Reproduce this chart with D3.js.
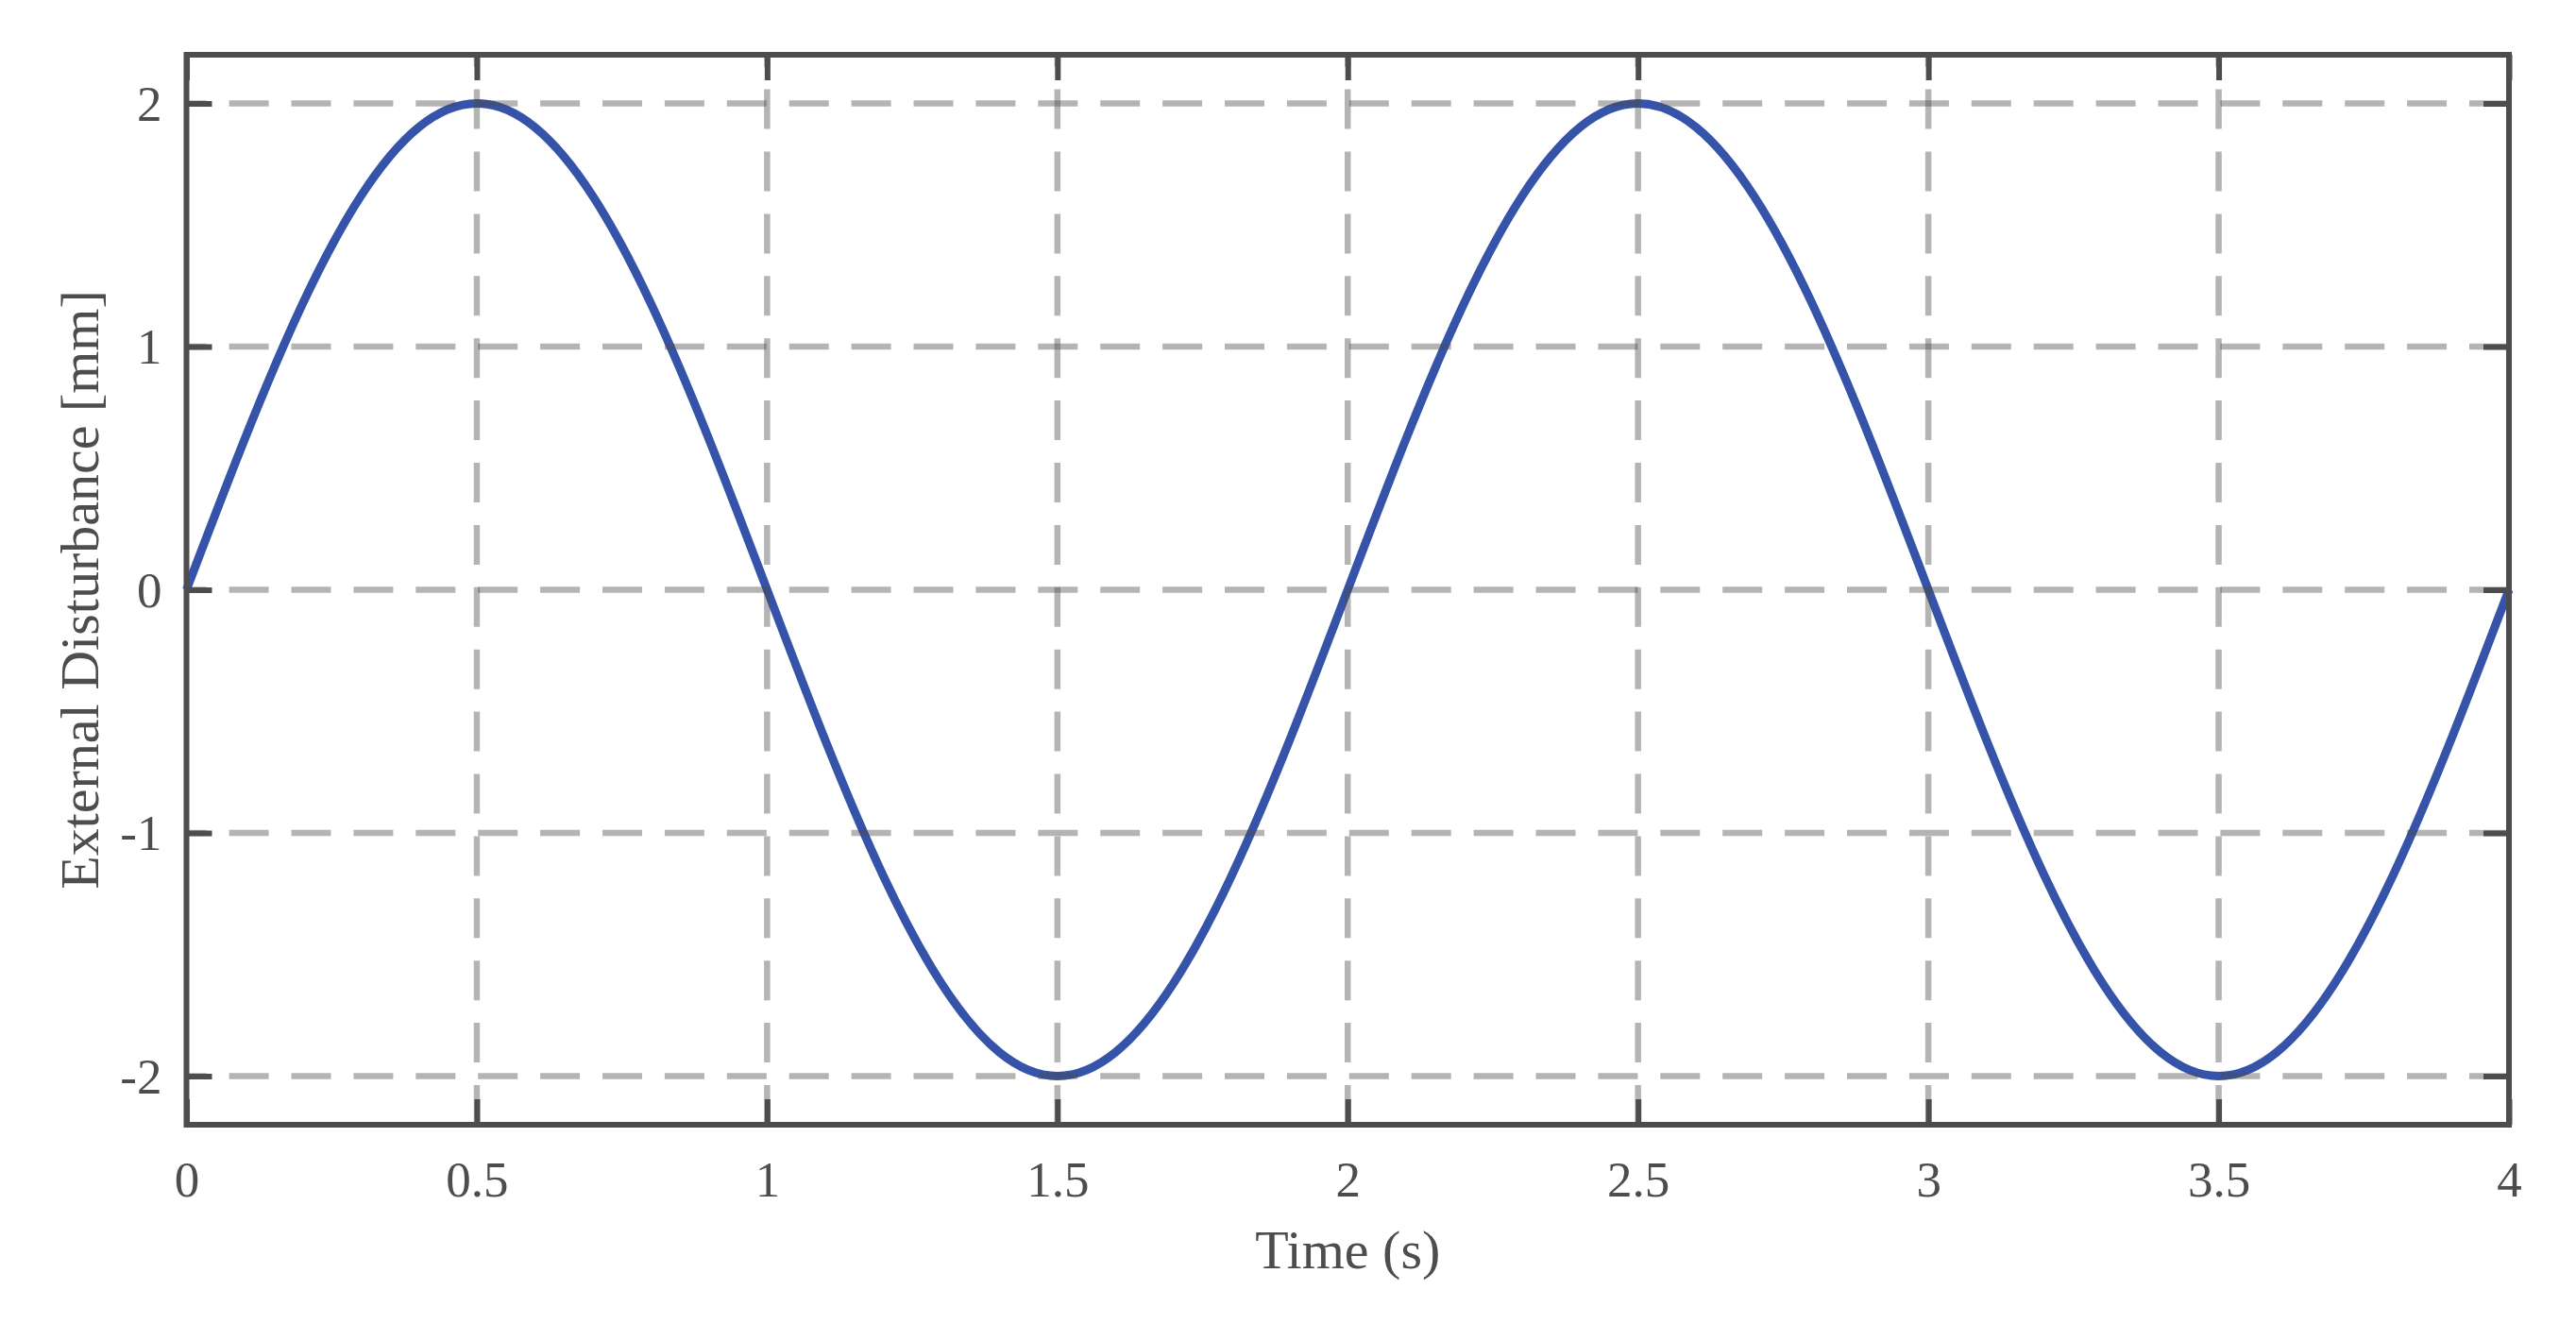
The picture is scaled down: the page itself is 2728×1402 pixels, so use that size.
<!DOCTYPE html>
<html>
<head>
<meta charset="utf-8">
<script src="https://cdn.jsdelivr.net/npm/d3@7"></script>
<style>
html,body{margin:0;padding:0;background:#fff;}
svg{display:block;}
text{font-family:"Liberation Serif","Times New Roman",serif;fill:#4d4d4f;}
</style>
</head>
<body>
<svg id="chart" width="2728" height="1402"></svg>
<script>
// Data
const timeValues = [0,0.1,0.2,0.3,0.4,0.5,0.6,0.7,0.8,0.9,1.0,1.1,1.2,1.3,1.4,1.5,1.6,1.7,1.8,1.9,2.0,
  2.1,2.2,2.3,2.4,2.5,2.6,2.7,2.8,2.9,3.0,3.1,3.2,3.3,3.4,3.5,3.6,3.7,3.8,3.9,4.0];
const disturbanceValues = [0,0.618,1.176,1.618,1.902,2.0,1.902,1.618,1.176,0.618,0,
  -0.618,-1.176,-1.618,-1.902,-2.0,-1.902,-1.618,-1.176,-0.618,0,
  0.618,1.176,1.618,1.902,2.0,1.902,1.618,1.176,0.618,0,
  -0.618,-1.176,-1.618,-1.902,-2.0,-1.902,-1.618,-1.176,-0.618,0];
const xTicks = [0,0.5,1,1.5,2,2.5,3,3.5,4];
const xTickLabels = ["0","0.5","1","1.5","2","2.5","3","3.5","4"];
const yTicks = [-2,-1,0,1,2];
const yTickLabels = ["-2","-1","0","1","2"];
const xLabel = "Time (s)";
const yLabel = "External Disturbance [mm]";

const L = 197.5, R = 2657, T = 58, B = 1191;
const frameColor = "#4d4d4f";
const svg = d3.select("#chart");

const x = d3.scaleLinear().domain([0,4]).range([L,R]);
const y = d3.scaleLinear().domain([-2.2,2.2]).range([B,T]);

const data = timeValues.map((t,i)=>({t:t, v:disturbanceValues[i]}));

// curve
const line = d3.line().x(d=>x(d.t)).y(d=>y(d.v)).curve(d3.curveNatural);
svg.append("path").datum(data)
  .attr("d", line)
  .attr("fill","none")
  .attr("stroke","#3553a8")
  .attr("stroke-width",9)
  .attr("stroke-linejoin","round");

// grid (drawn on top, semi-transparent)
const grid = svg.append("g").attr("stroke", frameColor).attr("stroke-opacity",0.42)
  .attr("stroke-width",6.5).attr("stroke-dasharray","42,23.9").attr("fill","none");
grid.selectAll("line.h").data(yTicks).join("line")
  .attr("x1",R).attr("x2",L).attr("y1",d=>y(d)).attr("y2",d=>y(d));
grid.selectAll("line.v").data(xTicks.filter(d=>d>0&&d<4)).join("line")
  .attr("x1",d=>x(d)).attr("x2",d=>x(d)).attr("y1",B).attr("y2",T);

// axes with inward ticks
const tickLen = 27;
const axB = d3.axisBottom(x).tickValues(xTicks).tickFormat((d,i)=>xTickLabels[i]).tickSizeInner(-tickLen).tickSizeOuter(0).tickPadding(40);
const axL = d3.axisLeft(y).tickValues(yTicks).tickFormat((d,i)=>yTickLabels[i]).tickSizeInner(-tickLen).tickSizeOuter(0).tickPadding(26);
const axT = d3.axisTop(x).tickValues(xTicks).tickFormat("").tickSizeInner(-tickLen).tickSizeOuter(0);
const axR = d3.axisRight(y).tickValues(yTicks).tickFormat("").tickSizeInner(-tickLen).tickSizeOuter(0);

function style(g){
  g.select(".domain").remove();
  g.selectAll(".tick line").attr("stroke",frameColor).attr("stroke-width",6);
  g.selectAll(".tick text").attr("fill",frameColor).style("font-size","53px")
   .style("font-family",'"Liberation Serif","Times New Roman",serif');
}
svg.append("g").attr("transform",`translate(0,${B})`).call(axB).call(style)
  .selectAll(".tick text").attr("y", 1267-B).attr("dy",0);
svg.append("g").attr("transform",`translate(${L},0)`).call(axL).call(style)
  .selectAll(".tick text").attr("dy","0.33em");
svg.append("g").attr("transform",`translate(0,${T})`).call(axT).call(style);
svg.append("g").attr("transform",`translate(${R},0)`).call(axR).call(style);

// frame
svg.append("rect").attr("x",L).attr("y",T).attr("width",R-L).attr("height",B-T)
  .attr("fill","none").attr("stroke",frameColor).attr("stroke-width",6);

// labels
svg.append("text").attr("x",(L+R)/2).attr("y",1343).attr("text-anchor","middle")
  .style("font-size","58px").text(xLabel);
svg.append("text").attr("transform",`translate(104,${(T+B)/2}) rotate(-90)`)
  .attr("text-anchor","middle").style("font-size","58px").text(yLabel);
</script>
</body>
</html>
